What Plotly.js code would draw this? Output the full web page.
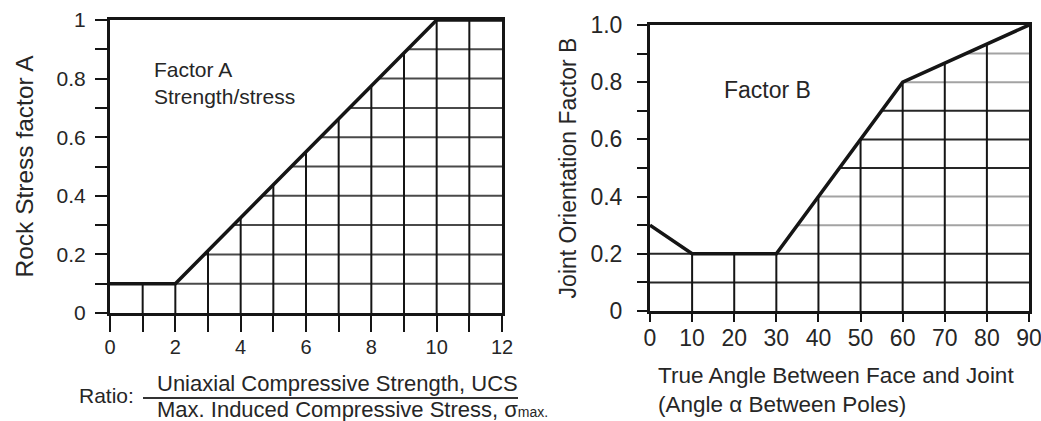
<!DOCTYPE html>
<html>
<head>
<meta charset="utf-8">
<script src="https://cdn.plot.ly/plotly-3.0.1.min.js"></script>
<style>
  html, body { margin: 0; padding: 0; background: #ffffff; }
  #chart { width: 1041px; height: 421px; }
</style>
</head>
<body>
<div id="chart"></div>
<script>
// Factor A: rock stress factor vs. strength/stress ratio
const ratioA = [0, 2, 10, 12];
const factorA = [0.1, 0.1, 1.0, 1.0];

// Factor B: joint orientation factor vs. true angle between face and joint
const angleB = [0, 10, 30, 60, 90];
const factorB = [0.3, 0.2, 0.2, 0.8, 1.0];

// Tick positions and labels
const tickValsAx = [0, 1, 2, 3, 4, 5, 6, 7, 8, 9, 10, 11, 12];
const tickTextAx = ['0', '', '2', '', '4', '', '6', '', '8', '', '10', '', '12'];
const tickValsAy = [0, 0.1, 0.2, 0.3, 0.4, 0.5, 0.6, 0.7, 0.8, 0.9, 1.0];
const tickTextAy = ['0', '', '0.2', '', '0.4', '', '0.6', '', '0.8', '', '1'];
const tickValsBx = [0, 10, 20, 30, 40, 50, 60, 70, 80, 90];
const tickTextBx = ['0', '10', '20', '30', '40', '50', '60', '70', '80', '90'];
const tickValsBy = [0, 0.1, 0.2, 0.3, 0.4, 0.5, 0.6, 0.7, 0.8, 0.9, 1.0];
const tickTextBy = ['0', '', '0.2', '', '0.4', '', '0.6', '', '0.8', '', '1.0'];

// Hatch levels: inner ticks of each axis
const hatchLevels = tickValsAy.slice(1, -1);
const hatchXA = tickValsAx.slice(1, -1);
const hatchXB = tickValsBx.slice(1, -1);

// Linear interpolation along a polyline
function interp(xs, ys, x) {
  for (let i = 0; i < xs.length - 1; i++) {
    if (x >= xs[i] && x <= xs[i + 1]) {
      const t = (x - xs[i]) / (xs[i + 1] - xs[i]);
      return ys[i] + t * (ys[i + 1] - ys[i]);
    }
  }
  return ys[ys.length - 1];
}

// x-intervals where the curve lies at or above a level
function spansAtLevel(xs, ys, L) {
  const eps = 1e-9;
  const out = [];
  for (let i = 0; i < xs.length - 1; i++) {
    const x0 = xs[i], x1 = xs[i + 1], y0 = ys[i], y1 = ys[i + 1];
    const a0 = y0 >= L - eps, a1 = y1 >= L - eps;
    let s = null;
    if (a0 && a1) s = [x0, x1];
    else if (a0) s = [x0, x0 + (L - y0) / (y1 - y0) * (x1 - x0)];
    else if (a1) s = [x0 + (L - y0) / (y1 - y0) * (x1 - x0), x1];
    if (s && s[1] - s[0] > eps) {
      const last = out[out.length - 1];
      if (last && Math.abs(last[1] - s[0]) < eps) last[1] = s[1];
      else out.push(s);
    }
  }
  return out;
}

// Horizontal hatch lines under a curve for the given levels
function hatchH(xs, ys, levels) {
  const hx = [], hy = [];
  levels.forEach(L => {
    spansAtLevel(xs, ys, L).forEach(s => {
      hx.push(s[0], s[1], null);
      hy.push(L, L, null);
    });
  });
  return { x: hx, y: hy };
}

// Vertical hatch lines from zero up to the curve
function hatchV(xs, ys, positions) {
  const vx = [], vy = [];
  positions.forEach(x => {
    vx.push(x, x, null);
    vy.push(0, interp(xs, ys, x), null);
  });
  return { x: vx, y: vy };
}

const ink = '#151515';
const textColor = '#262626';

// Lighter horizontal rules on the Factor B panel
const lightLevelsB = [0.3, 0.4, 0.8, 0.9];
const isLight = L => lightLevelsB.some(v => Math.abs(v - L) < 1e-9);

const hA = hatchH(ratioA, factorA, hatchLevels);
const vA = hatchV(ratioA, factorA, hatchXA);
const hBdark = hatchH(angleB, factorB, hatchLevels.filter(L => !isLight(L)));
const hBlight = hatchH(angleB, factorB, hatchLevels.filter(isLight));
const vB = hatchV(angleB, factorB, hatchXB);

function seg(d, xa, ya, color, width) {
  return {
    x: d.x, y: d.y, xaxis: xa, yaxis: ya, type: 'scatter', mode: 'lines',
    line: { color: color, width: width }, hoverinfo: 'skip', connectgaps: false
  };
}

const traces = [
  seg(hA, 'x', 'y', '#4a4a4a', 2),
  seg(vA, 'x', 'y', ink, 2),
  {
    x: ratioA, y: factorA, xaxis: 'x', yaxis: 'y', type: 'scatter', mode: 'lines',
    line: { color: ink, width: 3.5 }, name: 'Factor A'
  },
  seg(hBlight, 'x2', 'y2', '#a3a3a3', 2),
  seg(hBdark, 'x2', 'y2', '#262626', 2),
  seg(vB, 'x2', 'y2', ink, 2),
  {
    x: angleB, y: factorB, xaxis: 'x2', yaxis: 'y2', type: 'scatter', mode: 'lines',
    line: { color: ink, width: 3.5 }, name: 'Factor B'
  }
];

const W = 1041, H = 421;
const px = v => v / W;
const py = v => (H - v) / H;

const baseAxis = {
  showline: true, linewidth: 3, linecolor: ink, mirror: true,
  showgrid: false, zeroline: false, ticks: 'outside', tickwidth: 2,
  tickcolor: ink, tickmode: 'array', fixedrange: true,
  ticklabeloverflow: 'allow'
};

const fontFamily = 'Liberation Sans, Arial, sans-serif';

const layout = {
  width: W, height: H,
  margin: { l: 0, r: 0, t: 0, b: 0 },
  paper_bgcolor: '#ffffff', plot_bgcolor: '#ffffff',
  showlegend: false,
  font: { family: fontFamily, color: textColor },
  xaxis: Object.assign({}, baseAxis, {
    domain: [px(110), px(502)], range: [0, 12], anchor: 'y',
    tickvals: tickValsAx, ticktext: tickTextAx, ticklen: 16,
    tickfont: { size: 20, color: textColor }, ticklabelstandoff: -2
  }),
  yaxis: Object.assign({}, baseAxis, {
    domain: [py(313), py(20)], range: [0, 1], anchor: 'x',
    tickvals: tickValsAy, ticktext: tickTextAy, ticklen: 12,
    tickfont: { size: 21, color: textColor }, ticklabelstandoff: 5,
    title: { text: 'Rock Stress factor A', font: { size: 24.5, color: textColor }, standoff: 17 }
  }),
  xaxis2: Object.assign({}, baseAxis, {
    domain: [px(650), px(1029)], range: [0, 90], anchor: 'y2',
    tickvals: tickValsBx, ticktext: tickTextBx, ticklen: 8,
    tickfont: { size: 23, color: textColor }, ticklabelstandoff: -4
  }),
  yaxis2: Object.assign({}, baseAxis, {
    domain: [py(311), py(25)], range: [0, 1], anchor: 'x2',
    tickvals: tickValsBy, ticktext: tickTextBy, ticklen: 10,
    tickfont: { size: 23, color: textColor }, ticklabelstandoff: 10,
    title: { text: 'Joint Orientation Factor B', font: { size: 23, color: textColor }, standoff: 8 }
  }),
  shapes: [
    // fraction bar of the ratio label
    {
      type: 'line', xref: 'paper', yref: 'paper',
      x0: px(143), x1: px(518), y0: py(398), y1: py(398),
      line: { color: '#333333', width: 2 }
    }
  ],
  annotations: [
    {
      xref: 'paper', yref: 'paper', x: px(152), y: py(82.5),
      xanchor: 'left', yanchor: 'middle', align: 'left', showarrow: false,
      text: 'Factor A<br>Strength/stress', font: { size: 21, color: textColor }
    },
    {
      xref: 'paper', yref: 'paper', x: px(722), y: py(90),
      xanchor: 'left', yanchor: 'middle', showarrow: false,
      text: 'Factor B', font: { size: 23, color: textColor }
    },
    {
      xref: 'paper', yref: 'paper', x: px(77), y: py(395),
      xanchor: 'left', yanchor: 'middle', showarrow: false,
      text: 'Ratio:', font: { size: 21, color: textColor }
    },
    {
      xref: 'paper', yref: 'paper', x: px(337), y: py(383),
      xanchor: 'center', yanchor: 'middle', showarrow: false,
      text: 'Uniaxial Compressive Strength, UCS', font: { size: 22, color: textColor }
    },
    {
      xref: 'paper', yref: 'paper', x: px(155), y: py(409),
      xanchor: 'left', yanchor: 'middle', showarrow: false,
      text: 'Max. Induced Compressive Stress, σ<span style="font-size:14px">max.</span>',
      font: { size: 22, color: textColor }
    },
    {
      xref: 'paper', yref: 'paper', x: px(656), y: py(389.5),
      xanchor: 'left', yanchor: 'middle', align: 'left', showarrow: false,
      text: 'True Angle Between Face and Joint<br>(Angle α Between Poles)',
      font: { size: 22.5, color: textColor }
    }
  ]
};

Plotly.newPlot('chart', traces, layout, { staticPlot: true, displayModeBar: false });
</script>
</body>
</html>
